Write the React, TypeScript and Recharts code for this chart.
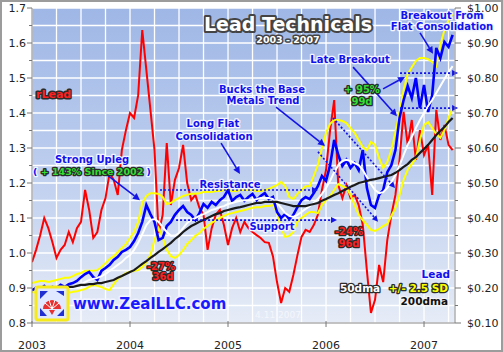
import React from 'react';
import { ComposedChart, Line, XAxis, YAxis, CartesianGrid, ReferenceLine } from 'recharts';

// half-month samples from Jan 2003
const START = 2003;
const STEP = 1 / 24;

// lead price, $/lb (right axis)
const lead = [
  0.194, 0.2, 0.197, 0.206, 0.194, 0.203, 0.2, 0.209, 0.203, 0.211,
  0.214, 0.22, 0.231, 0.24, 0.246, 0.231, 0.223, 0.249, 0.257, 0.266,
  0.28, 0.289, 0.303, 0.309, 0.317, 0.334, 0.357, 0.389, 0.437, 0.411,
  0.389, 0.337, 0.343, 0.377, 0.389, 0.409, 0.423, 0.434, 0.417, 0.409,
  0.394, 0.414, 0.44, 0.429, 0.446, 0.437, 0.451, 0.46, 0.48, 0.449,
  0.46, 0.466, 0.449, 0.46, 0.469, 0.451, 0.463, 0.471, 0.454, 0.46,
  0.417, 0.4, 0.411, 0.397, 0.409, 0.431, 0.451, 0.46, 0.454, 0.471,
  0.491, 0.52, 0.506, 0.551, 0.623, 0.58, 0.549, 0.566, 0.543, 0.557,
  0.537, 0.594, 0.486, 0.437, 0.429, 0.466, 0.48, 0.531, 0.551, 0.594,
  0.686, 0.737, 0.777, 0.743, 0.8, 0.714, 0.78, 0.703, 0.751, 0.886,
  0.857, 0.903, 0.889, 0.923,
];

// relative lead = price / 200dma (left axis)
const rLead = [
  0.974, 1.009, 1.051, 1.1, 1.071, 1.031, 0.986, 1.009, 1.023, 1.06,
  1.031, 1.071, 1.089, 1.18, 1.123, 1.043, 1.06, 1.123, 1.157, 1.229,
  1.209, 1.166, 1.294, 1.351, 1.4, 1.386, 1.451, 1.637, 1.523, 1.409,
  1.294, 1.057, 1.109, 1.314, 1.137, 1.209, 1.243, 1.309, 1.2, 1.151,
  1.166, 1.129, 1.109, 1.009, 1.071, 1.109, 1.123, 1.08, 1.023, 1.071,
  1.1, 1.06, 1.089, 1.071, 1.06, 1.051, 1.043, 1.031, 1.029, 0.991,
  0.917, 0.857, 0.9, 0.889, 0.937, 0.994, 1.046, 1.066, 1.06, 1.08,
  1.109, 1.18, 1.237, 1.351, 1.437, 1.194, 1.157, 1.194, 1.157, 1.166,
  1.137, 1.08, 0.951, 0.829, 0.866, 0.966, 0.917, 1.037, 1.109, 1.166,
  1.266, 1.403, 1.309, 1.38, 1.266, 1.351, 1.28, 1.309, 1.166, 1.409,
  1.323, 1.366, 1.309, 1.294,
];

// 50-day moving average (starts later)
const dma50 = [
  0.211, 0.217, 0.223, 0.226, 0.229, 0.234, 0.24, 0.249, 0.257, 0.266,
  0.274, 0.286, 0.294, 0.309, 0.329, 0.354, 0.38, 0.394, 0.397, 0.389,
  0.374, 0.36, 0.349, 0.349, 0.357, 0.371, 0.386, 0.394, 0.4, 0.406,
  0.411, 0.417, 0.423, 0.426, 0.431, 0.434, 0.44, 0.443, 0.446, 0.449,
  0.451, 0.451, 0.451, 0.454, 0.457, 0.457, 0.457, 0.454, 0.443, 0.429,
  0.414, 0.406, 0.403, 0.409, 0.417, 0.426, 0.434, 0.443, 0.454, 0.469,
  0.486, 0.506, 0.531, 0.551, 0.563, 0.566, 0.563, 0.557, 0.551, 0.537,
  0.517, 0.497, 0.48, 0.471, 0.474, 0.486, 0.503, 0.523, 0.551, 0.58,
  0.609, 0.631, 0.657, 0.68, 0.7, 0.72, 0.737, 0.757, 0.777, 0.797,
  0.817, 0.834,
];

// 200-day moving average (starts later)
const dma200 = [
  0.2, 0.2, 0.203, 0.203, 0.206, 0.209, 0.209, 0.211, 0.211, 0.214,
  0.214, 0.217, 0.22, 0.223, 0.229, 0.234, 0.24, 0.246, 0.251, 0.26,
  0.269, 0.277, 0.286, 0.294, 0.303, 0.311, 0.32, 0.329, 0.34, 0.349,
  0.36, 0.369, 0.377, 0.383, 0.389, 0.394, 0.4, 0.406, 0.411, 0.414,
  0.42, 0.423, 0.426, 0.429, 0.431, 0.434, 0.437, 0.44, 0.443, 0.443,
  0.446, 0.446, 0.446, 0.446, 0.443, 0.44, 0.437, 0.434, 0.434, 0.434,
  0.434, 0.437, 0.44, 0.443, 0.449, 0.454, 0.46, 0.466, 0.471, 0.477,
  0.483, 0.489, 0.494, 0.5, 0.503, 0.506, 0.509, 0.511, 0.514, 0.517,
  0.52, 0.523, 0.529, 0.537, 0.546, 0.554, 0.566, 0.574, 0.586, 0.597,
  0.609, 0.623, 0.637, 0.649, 0.66, 0.674, 0.686,
];

// 50dma +/- 2.5 SD bands
const bandUpper = [
  0.214, 0.217, 0.22, 0.22, 0.217, 0.22, 0.223, 0.226, 0.229, 0.229,
  0.234, 0.24, 0.243, 0.249, 0.249, 0.249, 0.251, 0.26, 0.271, 0.283,
  0.291, 0.303, 0.314, 0.326, 0.343, 0.36, 0.389, 0.443, 0.463, 0.471,
  0.471, 0.469, 0.46, 0.44, 0.443, 0.451, 0.457, 0.463, 0.466, 0.469,
  0.469, 0.471, 0.474, 0.474, 0.474, 0.477, 0.477, 0.48, 0.48, 0.477,
  0.477, 0.48, 0.48, 0.48, 0.48, 0.477, 0.477, 0.48, 0.483, 0.489,
  0.494, 0.503, 0.491, 0.46, 0.454, 0.469, 0.48, 0.491, 0.491, 0.52,
  0.551, 0.6, 0.643, 0.669, 0.68, 0.68, 0.677, 0.671, 0.657, 0.643,
  0.623, 0.603, 0.594, 0.617, 0.609, 0.571, 0.543, 0.56, 0.594, 0.646,
  0.703, 0.766, 0.811, 0.831, 0.849, 0.857, 0.857, 0.854, 0.846, 0.834,
  0.894, 0.937, 0.966, 0.983,
];

const bandLower = [
  0.189, 0.186, 0.183, 0.183, 0.186, 0.183, 0.18, 0.18, 0.183, 0.186,
  0.189, 0.191, 0.194, 0.197, 0.203, 0.209, 0.206, 0.203, 0.197, 0.194,
  0.211, 0.226, 0.234, 0.243, 0.246, 0.249, 0.251, 0.26, 0.274, 0.294,
  0.337, 0.371, 0.343, 0.309, 0.291, 0.286, 0.294, 0.309, 0.326, 0.337,
  0.349, 0.357, 0.369, 0.377, 0.386, 0.394, 0.4, 0.406, 0.411, 0.414,
  0.417, 0.42, 0.423, 0.426, 0.429, 0.431, 0.431, 0.434, 0.434, 0.437,
  0.417, 0.371, 0.346, 0.349, 0.36, 0.389, 0.4, 0.409, 0.417, 0.417,
  0.414, 0.437, 0.451, 0.463, 0.48, 0.497, 0.491, 0.486, 0.466, 0.437,
  0.409, 0.394, 0.38, 0.366, 0.363, 0.369, 0.377, 0.383, 0.406, 0.429,
  0.466, 0.509, 0.537, 0.554, 0.571, 0.623, 0.666, 0.674, 0.657, 0.64,
  0.629, 0.651, 0.686, 0.714,
];

const leftTicks = [0.8, 0.85, 0.9, 0.95, 1.0, 1.05, 1.1, 1.15, 1.2, 1.25, 1.3, 1.35, 1.4, 1.45, 1.5, 1.55, 1.6, 1.65, 1.7];
const rightTicks = [0.1, 0.15, 0.2, 0.25, 0.3, 0.35, 0.4, 0.45, 0.5, 0.55, 0.6, 0.65, 0.7, 0.75, 0.8, 0.85, 0.9, 0.95, 1.0];
const xTicks = [2003, 2003.25, 2003.5, 2003.75, 2004, 2004.25, 2004.5, 2004.75, 2005, 2005.25, 2005.5, 2005.75, 2006, 2006.25, 2006.5, 2006.75, 2007, 2007.25];

// dotted levels and trend guides: [t1, p1, t2, p2]
const dottedGuides = [
  [2004.306, 0.48, 2005.918, 0.48],
  [2004.47, 0.394, 2006.112, 0.394],
  [2006.755, 0.814, 2007.347, 0.814],
  [2006.755, 0.714, 2007.347, 0.714],
  [2006.071, 0.686, 2006.704, 0.486],
  [2005.918, 0.589, 2006.531, 0.389],
];

// callout pointers: [t1, p1, t2, p2]
const pointers = [
  [2003.765, 0.523, 2004.102, 0.451],
  [2004.929, 0.614, 2005.122, 0.526],
  [2005.49, 0.717, 2005.99, 0.606],
  [2006.276, 0.831, 2006.724, 0.691],
  [2006.582, 0.769, 2006.806, 0.803],
  [2006.959, 0.929, 2007.092, 0.869],
];

const tailPad = (arr: number[], i: number) => {
  const off = lead.length - arr.length;
  return i >= off ? arr[i - off] : null;
};

const rows = lead.map((v, i) => ({
  t: START + i * STEP,
  lead: v,
  rLead: rLead[i],
  upper: bandUpper[i],
  lower: bandLower[i],
  dma50: tailPad(dma50, i),
  dma200: tailPad(dma200, i),
}));

const AXIS_FONT = 'DejaVu Sans, Verdana, sans-serif';
const BOLD_FONT = 'DejaVu Sans, Verdana, sans-serif';
const isMajor = (v: number) => Math.abs(v * 10 - Math.round(v * 10)) < 1e-6;

const LeftTick = (props: any) => {
  const { x, y, payload } = props;
  const v = payload.value;
  const major = isMajor(v);
  return (
    <g>
      <line x1={x - (major ? 5 : 3)} x2={x} y1={y} y2={y} stroke="#777" />
      {major && (
        <text x={x - 6} y={y} dy={4} textAnchor="end" fontSize={11} fontFamily={AXIS_FONT} fill="#222">
          {v.toFixed(1)}
        </text>
      )}
    </g>
  );
};

const RightTick = (props: any) => {
  const { x, y, payload } = props;
  const v = payload.value;
  const major = isMajor(v);
  return (
    <g>
      <line x1={x} x2={x + (major ? 6 : 3)} y1={y} y2={y} stroke="#777" />
      {major && (
        <text x={x + 12} y={y} dy={4} textAnchor="start" fontSize={11} fontFamily={AXIS_FONT} fill="#222">
          {'$' + v.toFixed(2)}
        </text>
      )}
    </g>
  );
};

const BottomTick = (props: any) => {
  const { x, y, payload } = props;
  const v = payload.value;
  if (!Number.isInteger(v)) return <g />;
  return (
    <g>
      <line x1={x} x2={x} y1={y - 2} y2={y + 4} stroke="#777" />
      <text x={x} y={y + 26} textAnchor="middle" fontSize={11} fontFamily={AXIS_FONT} fill="#222">
        {v}
      </text>
    </g>
  );
};

const arrowShape = (dotted: boolean) => (p: any) => {
  const { x1, y1, x2, y2 } = p;
  const a = Math.atan2(y2 - y1, x2 - x1);
  const L = dotted ? 6 : 7;
  const W = dotted ? 3 : 3.5;
  const bx = x2 - L * Math.cos(a);
  const by = y2 - L * Math.sin(a);
  const pts = `${x2},${y2} ${bx - W * Math.sin(a)},${by + W * Math.cos(a)} ${bx + W * Math.sin(a)},${by - W * Math.cos(a)}`;
  return (
    <g>
      <line x1={x1} y1={y1} x2={bx} y2={by} stroke="#1414e6" strokeWidth={1.6} strokeDasharray={dotted ? '2 2' : undefined} />
      <polygon points={pts} fill="#1414e6" />
    </g>
  );
};

const Txt = ({ x, y, children, fill, stroke = '#f2f4ff', size = 10, anchor = 'middle', sw = 2.6 }: any) => (
  <text
    x={x}
    y={y}
    textAnchor={anchor}
    fontFamily={BOLD_FONT}
    fontWeight="bold"
    fontSize={size}
    fill={fill}
    stroke={stroke}
    strokeWidth={sw}
    strokeLinejoin="round"
    paintOrder="stroke"
  >
    {children}
  </text>
);

const BLUE = '#1212ee';
const DARK = '#2b2b2b';

const Overlay = () => (
  <svg width={503} height={352} style={{ position: 'absolute', left: 0, top: 0, pointerEvents: 'none' }}>
    <rect x={1} y={1} width={501} height={350} fill="none" stroke="#9c9c9c" strokeWidth={2} />

    <Txt x={288} y={31} size={19} fill="#ffffff" stroke="#444" sw={4}>Lead Technicals</Txt>
    <Txt x={288} y={43} size={9.5} fill="#ffffff" stroke="#444" sw={3}>2003 - 2007</Txt>

    <Txt x={36} y={98} size={11} fill="#ff2020" stroke={DARK} sw={3} anchor="start">rLead</Txt>

    <Txt x={92} y={163} fill={BLUE}>Strong Upleg</Txt>
    <text x={92} y={175} textAnchor="middle" fontFamily={BOLD_FONT} fontWeight="bold" fontSize={9.5}
      stroke={DARK} strokeWidth={2.6} strokeLinejoin="round" paintOrder="stroke">
      <tspan fill={BLUE} stroke="#f2f4ff">(</tspan>
      <tspan fill="#33dd33"> + 143% Since 2002 </tspan>
      <tspan fill={BLUE} stroke="#f2f4ff">)</tspan>
    </text>

    <Txt x={213} y={127} fill={BLUE}>Long Flat</Txt>
    <Txt x={214} y={140} fill={BLUE}>Consolidation</Txt>
    <Txt x={230} y={188} fill={BLUE}>Resistance</Txt>
    <Txt x={272} y={230} fill={BLUE}>Support</Txt>

    <Txt x={262} y={93} fill={BLUE}>Bucks the Base</Txt>
    <Txt x={263} y={104} fill={BLUE}>Metals Trend</Txt>
    <Txt x={350} y={63} fill={BLUE}>Late Breakout</Txt>

    <Txt x={362} y={93} fill="#33dd33" stroke={DARK}>+ 95%</Txt>
    <Txt x={362} y={105} fill="#33dd33" stroke={DARK}>99d</Txt>

    <Txt x={442} y={19} fill={BLUE}>Breakout From</Txt>
    <Txt x={442} y={30} fill={BLUE}>Flat Consolidation</Txt>

    <Txt x={161} y={270} fill="#ff2020" stroke={DARK}>-27%</Txt>
    <Txt x={163} y={280} fill="#ff2020" stroke={DARK}>36d</Txt>
    <Txt x={349} y={235} fill="#ff2020" stroke={DARK}>-24%</Txt>
    <Txt x={349} y={247} fill="#ff2020" stroke={DARK}>96d</Txt>

    <Txt x={450} y={278} size={10.5} fill={BLUE} anchor="end">Lead</Txt>
    <Txt x={340} y={292} size={10.5} fill="#ffffff" stroke={DARK} anchor="start">50dma</Txt>
    <Txt x={448} y={292} size={10.5} fill="#ffff00" stroke={DARK} anchor="end">+/- 2.5 SD</Txt>
    <Txt x={448} y={305} size={10.5} fill="#111" stroke="#f4f4f4" anchor="end">200dma</Txt>

    <text x={278} y={318} textAnchor="middle" fontFamily={AXIS_FONT} fontSize={9} fill="#f4f6fb">4.11.2007</text>

    <Txt x={73} y={309} size={15} fill="#1a1aff" stroke="#f0f3ff" sw={3} anchor="start">www.ZealLLC.com</Txt>

    <g>
      <rect x={36} y={287} width={32} height={33} rx={2} fill="#dfe8ff" stroke="#f7ea1a" strokeWidth={3} />
      <path d="M40 291 L48 291 L40 299 Z M56 291 L64 291 L64 296 Z M40 316 L40 308 L47 316 Z M64 316 L57 316 L64 309 Z" fill="#2030d0" />
      <path d="M43 309 A9 9 0 0 1 61 309 Z" fill="#e83030" />
      <path d="M52 309 L45 303 M52 309 L49 300 M52 309 L55 300 M52 309 L59 303" stroke="#fff" strokeWidth={1} />
      <path d="M49 310 L55 310 L52 315 Z" fill="#e83030" />
    </g>
  </svg>
);

export default function App() {
  return (
    <div style={{ position: 'absolute', left: 0, top: 0, width: 503, height: 352, background: '#ffffff' }}>
      <div
        style={{
          position: 'absolute',
          left: 32,
          top: 8,
          width: 423,
          height: 315,
          background: 'linear-gradient(to bottom, #9fb7e6 0%, #bccdee 50%, #e6ecf7 100%)',
        }}
      />
      <div style={{ position: 'absolute', left: 0, top: 0 }}>
        <ComposedChart width={503} height={352} data={rows} margin={{ top: 8, right: 0, bottom: 0, left: 0 }}>
          <CartesianGrid yAxisId="left" stroke="#ffffff" strokeWidth={1.3} />
          <XAxis
            dataKey="t"
            type="number"
            domain={[2003, 2007.316]}
            ticks={xTicks}
            interval={0}
            allowDataOverflow
            height={29}
            tickSize={0}
            tickMargin={0}
            tick={<BottomTick />}
            axisLine={{ stroke: '#888' }}
          />
          <YAxis
            yAxisId="left"
            orientation="left"
            width={32}
            domain={[0.8, 1.7]}
            ticks={leftTicks}
            interval={0}
            allowDataOverflow
            tickSize={0}
            tickMargin={0}
            tick={<LeftTick />}
            axisLine={{ stroke: '#888' }}
          />
          <YAxis
            yAxisId="right"
            orientation="right"
            width={48}
            domain={[0.1, 1.0]}
            ticks={rightTicks}
            interval={0}
            allowDataOverflow
            tickSize={0}
            tickMargin={0}
            tick={<RightTick />}
            axisLine={{ stroke: '#888' }}
          />
          <Line yAxisId="left" dataKey="rLead" stroke="#ff0000" strokeWidth={2} dot={false} isAnimationActive={false} />
          <Line yAxisId="right" dataKey="upper" stroke="#ffff00" strokeWidth={2} dot={false} isAnimationActive={false} />
          <Line yAxisId="right" dataKey="lower" stroke="#ffff00" strokeWidth={2} dot={false} isAnimationActive={false} />
          <Line yAxisId="right" dataKey="lead" stroke="#0000ff" strokeWidth={2.6} dot={false} isAnimationActive={false} />
          <Line yAxisId="right" dataKey="dma50" stroke="#ffffff" strokeWidth={2} dot={false} isAnimationActive={false} />
          <Line yAxisId="right" dataKey="dma200" stroke="#1a1a1a" strokeWidth={2.2} dot={false} isAnimationActive={false} />
          {dottedGuides.map((g, i) => (
            <ReferenceLine
              key={'d' + i}
              yAxisId="right"
              ifOverflow="visible"
              segment={[{ x: g[0], y: g[1] }, { x: g[2], y: g[3] }]}
              shape={arrowShape(true)}
            />
          ))}
          {pointers.map((g, i) => (
            <ReferenceLine
              key={'p' + i}
              yAxisId="right"
              ifOverflow="visible"
              segment={[{ x: g[0], y: g[1] }, { x: g[2], y: g[3] }]}
              shape={arrowShape(false)}
            />
          ))}
        </ComposedChart>
      </div>
      <Overlay />
    </div>
  );
}
